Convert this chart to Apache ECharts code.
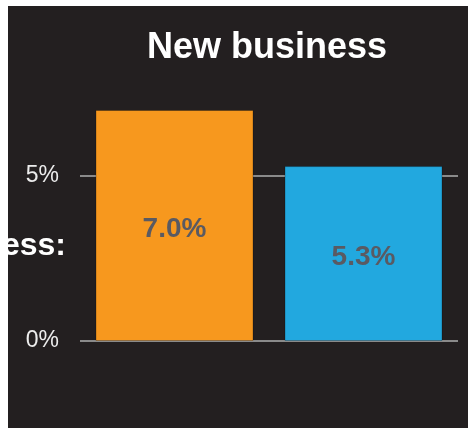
<!DOCTYPE html>
<html>
<head>
<meta charset="utf-8">
<script src="https://cdn.jsdelivr.net/npm/echarts@6/dist/echarts.min.js"></script>
<style>
  html, body { margin: 0; padding: 0; background: #ffffff; width: 469px; height: 428px; overflow: hidden; }
  #chart { position: absolute; left: 8px; top: 6px; width: 460px; height: 422px; }
</style>
</head>
<body>
<div id="chart"></div>
<script>
// Growth rates for new business, in percent
const categories = ['Group', 'Segment'];
const values = [7.0, 5.3];
const barColors = ['#f7981e', '#22a8df'];
const yTicks = [0, 5];

const chart = echarts.init(document.getElementById('chart'), null, { renderer: 'canvas' });

chart.setOption({
  backgroundColor: '#231f20',
  animation: false,
  title: {
    text: 'New business',
    left: 134,
    top: 19,
    textStyle: { color: '#ffffff', fontSize: 36, fontWeight: 'bold', fontFamily: 'Liberation Sans, Arial, sans-serif' }
  },
  graphic: [{
    type: 'text',
    right: 402,
    top: 224,
    style: {
      text: 'New business:',
      fill: '#ffffff',
      font: 'bold 32px "Liberation Sans", Arial, sans-serif',
      textAlign: 'right'
    }
  }],
  grid: { left: 72, width: 378, top: 87.5, height: 247.5 },
  xAxis: {
    type: 'category',
    data: categories,
    axisLine: { show: false },
    axisTick: { show: false },
    axisLabel: { show: false }
  },
  yAxis: {
    type: 'value',
    min: 0,
    max: 7.5,
    interval: yTicks[1] - yTicks[0],
    axisLine: { show: false },
    axisTick: { show: false },
    axisLabel: {
      showMaxLabel: false,
      margin: 21,
      color: '#ececec',
      fontSize: 23,
      fontFamily: 'Liberation Sans, Arial, sans-serif',
      formatter: v => (yTicks.includes(v) ? v + '%' : '')
    },
    splitLine: {
      showMaxLine: false,
      lineStyle: { color: '#8a8a8a', width: 2 }
    }
  },
  series: [{
    type: 'bar',
    barWidth: 158,
    data: values.map((v, i) => ({
      value: v,
      itemStyle: { color: barColors[i] }
    })),
    itemStyle: { borderColor: 'rgba(0,0,0,0.25)', borderWidth: 1 },
    label: {
      show: true,
      position: 'inside',
      offset: [0, 4],
      color: '#5a5a62',
      fontSize: 28,
      fontWeight: 'bold',
      fontFamily: 'Liberation Sans, Arial, sans-serif',
      formatter: p => p.value.toFixed(1) + '%'
    }
  }]
});
</script>
</body>
</html>
